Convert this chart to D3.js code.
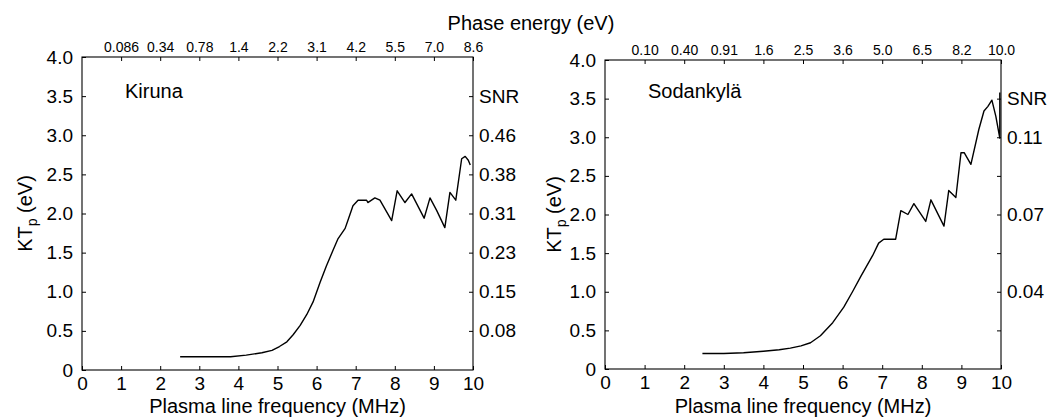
<!DOCTYPE html>
<html><head><meta charset="utf-8">
<script src="https://cdn.jsdelivr.net/npm/d3@7"></script>
<style>
body{margin:0;background:#fff;}
svg{display:block;font-family:"Liberation Sans",Arial,Helvetica,sans-serif;}
</style></head>
<body><svg id="c" width="1057" height="417"></svg>
<script>
// ---- data ----
const kirunaFreq = [2.51, 3.0, 3.5, 3.8, 4.2, 4.6, 4.86, 5.05, 5.24, 5.4, 5.58, 5.75, 5.91, 6.09, 6.25, 6.42, 6.55, 6.73, 6.82, 6.93, 7.06, 7.28, 7.31, 7.49, 7.62, 7.92, 8.06, 8.26, 8.43, 8.75, 8.90, 9.07, 9.28, 9.41, 9.56, 9.71, 9.80, 9.88, 9.93];
const kirunaKT   = [0.17, 0.17, 0.17, 0.17, 0.19, 0.22, 0.25, 0.30, 0.36, 0.45, 0.57, 0.71, 0.87, 1.12, 1.33, 1.53, 1.68, 1.81, 1.94, 2.10, 2.17, 2.17, 2.14, 2.20, 2.17, 1.91, 2.29, 2.14, 2.25, 1.94, 2.20, 2.04, 1.82, 2.27, 2.17, 2.70, 2.73, 2.68, 2.62];
const sodFreq = [2.46, 3.0, 3.5, 4.0, 4.4, 4.68, 4.95, 5.19, 5.44, 5.75, 6.03, 6.25, 6.46, 6.76, 6.91, 7.04, 7.34, 7.47, 7.65, 7.80, 8.10, 8.23, 8.56, 8.68, 8.86, 8.99, 9.07, 9.24, 9.44, 9.57, 9.67, 9.77, 9.87, 9.97, 9.97];
const sodKT   = [0.20, 0.20, 0.21, 0.23, 0.25, 0.27, 0.30, 0.34, 0.43, 0.60, 0.80, 1.00, 1.20, 1.47, 1.63, 1.68, 1.68, 2.05, 2.00, 2.14, 1.91, 2.19, 1.85, 2.31, 2.22, 2.80, 2.80, 2.65, 3.10, 3.34, 3.40, 3.48, 3.27, 2.99, 3.58];
const freqTicks = [0,1,2,3,4,5,6,7,8,9,10];
const ktTicks = [0,0.5,1.0,1.5,2.0,2.5,3.0,3.5,4.0];
const energyTickPos = [1,2,3,4,5,6,7,8,9,10];
const kirunaEnergyLabels = ["0.086","0.34","0.78","1.4","2.2","3.1","4.2","5.5","7.0","8.6"];
const sodEnergyLabels = ["0.10","0.40","0.91","1.6","2.5","3.6","5.0","6.5","8.2","10.0"];
const snrTickPos = [0.5,1.0,1.5,2.0,2.5,3.0,3.5];
const kirunaSnrLabels = ["0.08","0.15","0.23","0.31","0.38","0.46","SNR"];
const sodSnrLabels = ["","0.04","","0.07","","0.11","SNR"];

const svg = d3.select("#c");

function panel(o){
  const x = d3.scaleLinear().domain([0,10]).range([o.x0,o.x1]);
  const y = d3.scaleLinear().domain([0,4]).range([o.y0,o.y1]);
  const g = svg.append("g");
  const tickLen = 4;
  // bottom
  const gb = g.append("g").attr("transform",`translate(0,${o.y0})`)
    .call(d3.axisBottom(x).tickValues(freqTicks).tickFormat(d=>d).tickSizeInner(-tickLen).tickSizeOuter(0).tickPadding(7));
  // left
  const gl = g.append("g").attr("transform",`translate(${o.x0},0)`)
    .call(d3.axisLeft(y).tickValues(ktTicks).tickFormat(d=>d===0?"0":d3.format(".1f")(d)).tickSizeInner(-tickLen).tickSizeOuter(0).tickPadding(9));
  // top
  const gt = g.append("g").attr("transform",`translate(0,${o.y1})`)
    .call(d3.axisTop(x).tickValues(energyTickPos).tickFormat((d,i)=>o.eLabels[i]).tickSizeInner(-tickLen).tickSizeOuter(0).tickPadding(5));
  // right
  const gr = g.append("g").attr("transform",`translate(${o.x1},0)`)
    .call(d3.axisRight(y).tickValues(snrTickPos).tickFormat((d,i)=>o.sLabels[i]).tickSizeInner(-tickLen).tickSizeOuter(0).tickPadding(6));
  [gb,gl,gr].forEach(a=>a.selectAll("text").attr("font-size",19).attr("fill","#000").attr("font-family",null));
  gt.selectAll("text").attr("font-size",14).attr("fill","#000").attr("font-family",null);
  gb.selectAll(".domain").remove();gl.selectAll(".domain").remove();gt.selectAll(".domain").remove();gr.selectAll(".domain").remove();
  g.selectAll(".tick line").attr("stroke","#000");
  // hide 0 and 10 bottom ticks' lines (corners)
  // frame
  g.append("rect").attr("x",x(0)).attr("y",y(4)).attr("width",x(10)-x(0)).attr("height",y(0)-y(4))
    .attr("fill","none").attr("stroke","#000").attr("stroke-width",1.1);
  // data line
  const pts = o.fx.map((f,i)=>[f,o.ky[i]]);
  g.append("path").datum(pts)
    .attr("d",d3.line().x(d=>x(d[0])).y(d=>y(d[1])))
    .attr("fill","none").attr("stroke","#000").attr("stroke-width",1.4).attr("stroke-linejoin","round");
  // station name
  g.append("text").attr("x",o.nameX).attr("y",98).attr("font-size",20).text(o.name);
  // x label
  g.append("text").attr("x",(o.x0+o.x1)/2).attr("y",413).attr("text-anchor","middle").attr("font-size",20).text("Plasma line frequency (MHz)");
  // y label
  const yl = g.append("text").attr("transform",`translate(${o.ylx},${(o.y0+o.y1)/2}) rotate(-90)`)
    .attr("text-anchor","middle").attr("font-size",20);
  yl.append("tspan").text("KT");
  yl.append("tspan").attr("font-size",14).attr("dy",5).text("p");
  yl.append("tspan").attr("dy",-5).text(" (eV)");
}

panel({x0:82,x1:473,y0:370,y1:57,eLabels:kirunaEnergyLabels,sLabels:kirunaSnrLabels,fx:kirunaFreq,ky:kirunaKT,name:"Kiruna",nameX:125,ylx:32});
panel({x0:605,x1:1001,y0:369,y1:60,eLabels:sodEnergyLabels,sLabels:sodSnrLabels,fx:sodFreq,ky:sodKT,name:"Sodankylä",nameX:648,ylx:561});

svg.append("text").attr("x",531).attr("y",30).attr("text-anchor","middle").attr("font-size",20).text("Phase energy (eV)");
</script></body></html>
